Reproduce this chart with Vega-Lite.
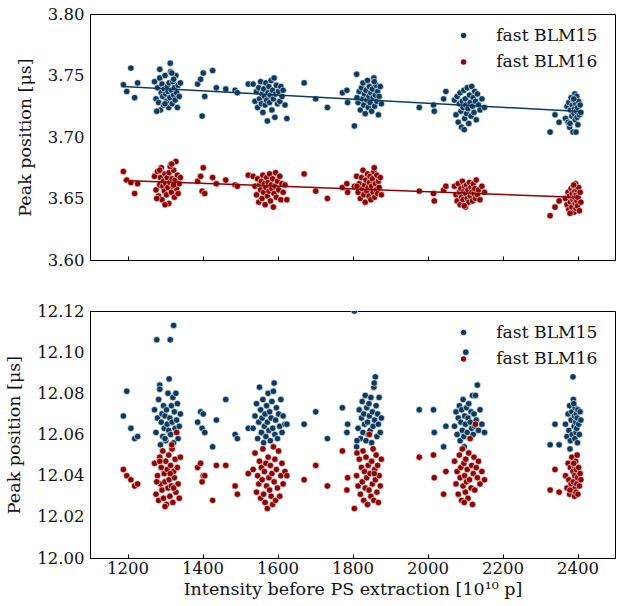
{
  "$schema": "https://vega.github.io/schema/vega-lite/v6.json",
  "padding": {"left": 5, "top": 5, "right": 5, "bottom": 5},
  "config": {
    "font": "DejaVu Serif",
    "view": {"stroke": "black", "strokeWidth": 1},
    "axis": {"domainColor": "black", "tickColor": "black", "labelColor": "#111", "titleColor": "#111", "labelFontSize": 16.5, "titleFontSize": 17.5, "titleFontWeight": "normal", "grid": false, "labelFont": "DejaVu Serif", "titleFont": "DejaVu Serif"},
    "legend": {"labelFont": "DejaVu Serif", "labelFontSize": 17.2, "labelColor": "#111"}
  },
  "datasets": {
    "shots": [
      {"x":1189,"t15":3.7425,"t16":3.672,"b15":12.069,"b16":12.043},
      {"x":1198,"t15":3.737,"t16":3.665,"b15":12.081,"b16":12.040},
      {"x":1209,"t15":3.756,"t16":3.663,"b15":12.063,"b16":12.038},
      {"x":1219,"t15":3.732,"t16":3.654,"b15":12.058,"b16":12.035},
      {"x":1227,"t15":3.744,"t16":3.662,"b15":12.059,"b16":12.036},
      {"x":1272,"t15":3.745,"t16":3.668,"b15":12.072,"b16":12.046},
      {"x":1276,"t15":3.731,"t16":3.657,"b15":12.061,"b16":12.031},
      {"x":1280,"t15":3.740,"t16":3.672,"b15":12.068,"b16":12.040},
      {"x":1283,"t15":3.728,"t16":3.652,"b15":12.077,"b16":12.028},
      {"x":1286,"t15":3.748,"t16":3.661,"b15":12.084,"b16":12.049},
      {"x":1288,"t15":3.722,"t16":3.667,"b15":12.055,"b16":12.036},
      {"x":1290,"t15":3.736,"t16":3.675,"b15":12.066,"b16":12.044},
      {"x":1292,"t15":3.743,"t16":3.649,"b15":12.070,"b16":12.033},
      {"x":1294,"t15":3.733,"t16":3.660,"b15":12.059,"b16":12.052},
      {"x":1296,"t15":3.726,"t16":3.664,"b15":12.074,"b16":12.029},
      {"x":1298,"t15":3.739,"t16":3.656,"b15":12.063,"b16":12.041},
      {"x":1300,"t15":3.750,"t16":3.670,"b15":12.069,"b16":12.037},
      {"x":1302,"t15":3.735,"t16":3.662,"b15":12.057,"b16":12.047},
      {"x":1304,"t15":3.729,"t16":3.653,"b15":12.072,"b16":12.026},
      {"x":1306,"t15":3.741,"t16":3.667,"b15":12.065,"b16":12.043},
      {"x":1308,"t15":3.737,"t16":3.659,"b15":12.080,"b16":12.034},
      {"x":1310,"t15":3.724,"t16":3.646,"b15":12.062,"b16":12.050},
      {"x":1311,"t15":3.744,"t16":3.671,"b15":12.087,"b16":12.038},
      {"x":1313,"t15":3.732,"t16":3.663,"b15":12.068,"b16":12.030},
      {"x":1315,"t15":3.753,"t16":3.677,"b15":12.060,"b16":12.045},
      {"x":1317,"t15":3.738,"t16":3.655,"b15":12.074,"b16":12.035},
      {"x":1319,"t15":3.727,"t16":3.666,"b15":12.066,"b16":12.053},
      {"x":1321,"t15":3.745,"t16":3.660,"b15":12.078,"b16":12.027},
      {"x":1323,"t15":3.734,"t16":3.673,"b15":12.056,"b16":12.042},
      {"x":1325,"t15":3.740,"t16":3.651,"b15":12.071,"b16":12.039},
      {"x":1327,"t15":3.730,"t16":3.665,"b15":12.063,"b16":12.048},
      {"x":1329,"t15":3.750,"t16":3.680,"b15":12.080,"b16":12.032},
      {"x":1331,"t15":3.736,"t16":3.658,"b15":12.067,"b16":12.061},
      {"x":1333,"t15":3.724,"t16":3.669,"b15":12.075,"b16":12.044},
      {"x":1335,"t15":3.742,"t16":3.654,"b15":12.058,"b16":12.036},
      {"x":1338,"t15":3.733,"t16":3.662,"b15":12.064,"b16":12.029},
      {"x":1341,"t15":3.744,"t16":3.667,"b15":12.070,"b16":12.049},
      {"x":1278,"t15":3.721,"t16":3.650,"b15":12.106,"b16":12.037},
      {"x":1314,"t15":3.760,"t16":3.676,"b15":12.106,"b16":12.041},
      {"x":1323,"t15":3.747,"t16":3.661,"b15":12.113,"b16":12.034},
      {"x":1286,"t15":3.755,"t16":3.673,"b15":12.082,"b16":12.047},
      {"x":1300,"t15":3.727,"t16":3.645,"b15":12.058,"b16":12.025},
      {"x":1318,"t15":3.752,"t16":3.678,"b15":12.053,"b16":12.055},
      {"x":1387,"t15":3.743,"t16":3.664,"b15":12.066,"b16":12.044},
      {"x":1395,"t15":3.747,"t16":3.668,"b15":12.071,"b16":12.046},
      {"x":1399,"t15":3.717,"t16":3.656,"b15":12.063,"b16":12.037},
      {"x":1402,"t15":3.752,"t16":3.675,"b15":12.070,"b16":12.040},
      {"x":1406,"t15":3.733,"t16":3.654,"b15":12.061,"b16":12.040},
      {"x":1427,"t15":3.754,"t16":3.667,"b15":12.054,"b16":12.028},
      {"x":1437,"t15":3.740,"t16":3.662,"b15":12.067,"b16":12.045},
      {"x":1462,"t15":3.739,"t16":3.665,"b15":12.077,"b16":12.045},
      {"x":1487,"t15":3.738,"t16":3.661,"b15":12.060,"b16":12.035},
      {"x":1493,"t15":3.736,"t16":3.660,"b15":12.058,"b16":12.031},
      {"x":1522,"t15":3.743,"t16":3.669,"b15":12.063,"b16":12.041},
      {"x":1535,"t15":3.743,"t16":3.668,"b15":12.063,"b16":12.043},
      {"x":1540,"t15":3.729,"t16":3.660,"b15":12.069,"b16":12.051},
      {"x":1544,"t15":3.737,"t16":3.653,"b15":12.075,"b16":12.032},
      {"x":1547,"t15":3.724,"t16":3.666,"b15":12.058,"b16":12.040},
      {"x":1550,"t15":3.740,"t16":3.647,"b15":12.066,"b16":12.036},
      {"x":1552,"t15":3.731,"t16":3.661,"b15":12.083,"b16":12.047},
      {"x":1555,"t15":3.745,"t16":3.657,"b15":12.072,"b16":12.029},
      {"x":1557,"t15":3.727,"t16":3.664,"b15":12.061,"b16":12.044},
      {"x":1559,"t15":3.735,"t16":3.650,"b15":12.068,"b16":12.038},
      {"x":1561,"t15":3.720,"t16":3.669,"b15":12.077,"b16":12.053},
      {"x":1563,"t15":3.739,"t16":3.655,"b15":12.056,"b16":12.031},
      {"x":1565,"t15":3.733,"t16":3.662,"b15":12.064,"b16":12.042},
      {"x":1567,"t15":3.726,"t16":3.645,"b15":12.070,"b16":12.027},
      {"x":1569,"t15":3.744,"t16":3.659,"b15":12.059,"b16":12.046},
      {"x":1571,"t15":3.730,"t16":3.667,"b15":12.074,"b16":12.035},
      {"x":1573,"t15":3.713,"t16":3.652,"b15":12.066,"b16":12.024},
      {"x":1575,"t15":3.736,"t16":3.663,"b15":12.080,"b16":12.049},
      {"x":1577,"t15":3.741,"t16":3.656,"b15":12.062,"b16":12.039},
      {"x":1579,"t15":3.728,"t16":3.670,"b15":12.071,"b16":12.033},
      {"x":1581,"t15":3.734,"t16":3.648,"b15":12.057,"b16":12.045},
      {"x":1583,"t15":3.746,"t16":3.661,"b15":12.068,"b16":12.030},
      {"x":1585,"t15":3.722,"t16":3.658,"b15":12.076,"b16":12.041},
      {"x":1587,"t15":3.738,"t16":3.666,"b15":12.063,"b16":12.026},
      {"x":1589,"t15":3.731,"t16":3.643,"b15":12.081,"b16":12.054},
      {"x":1591,"t15":3.748,"t16":3.654,"b15":12.085,"b16":12.037},
      {"x":1593,"t15":3.716,"t16":3.660,"b15":12.060,"b16":12.048},
      {"x":1595,"t15":3.735,"t16":3.671,"b15":12.067,"b16":12.028},
      {"x":1597,"t15":3.742,"t16":3.651,"b15":12.073,"b16":12.043},
      {"x":1600,"t15":3.727,"t16":3.664,"b15":12.058,"b16":12.034},
      {"x":1603,"t15":3.737,"t16":3.657,"b15":12.070,"b16":12.052},
      {"x":1606,"t15":3.729,"t16":3.668,"b15":12.064,"b16":12.030},
      {"x":1609,"t15":3.741,"t16":3.649,"b15":12.077,"b16":12.040},
      {"x":1612,"t15":3.733,"t16":3.662,"b15":12.061,"b16":12.046},
      {"x":1615,"t15":3.738,"t16":3.655,"b15":12.069,"b16":12.036},
      {"x":1620,"t15":3.726,"t16":3.661,"b15":12.065,"b16":12.042},
      {"x":1625,"t15":3.715,"t16":3.649,"b15":12.065,"b16":12.040},
      {"x":1671,"t15":3.744,"t16":3.670,"b15":12.065,"b16":12.038},
      {"x":1702,"t15":3.731,"t16":3.656,"b15":12.071,"b16":12.045},
      {"x":1733,"t15":3.724,"t16":3.650,"b15":12.058,"b16":12.035},
      {"x":1773,"t15":3.736,"t16":3.659,"b15":12.073,"b16":12.052},
      {"x":1787,"t15":3.728,"t16":3.655,"b15":12.065,"b16":12.039},
      {"x":1785,"t15":3.738,"t16":3.662,"b15":12.061,"b16":12.033},
      {"x":1805,"t15":3.709,"t16":3.660,"b15":12.120,"b16":12.024},
      {"x":1811,"t15":3.751,"t16":3.668,"b15":12.054,"b16":12.040},
      {"x":1815,"t15":3.728,"t16":3.655,"b15":12.063,"b16":12.035},
      {"x":1818,"t15":3.737,"t16":3.662,"b15":12.072,"b16":12.048},
      {"x":1821,"t15":3.722,"t16":3.650,"b15":12.058,"b16":12.031},
      {"x":1824,"t15":3.740,"t16":3.667,"b15":12.068,"b16":12.044},
      {"x":1826,"t15":3.731,"t16":3.658,"b15":12.076,"b16":12.037},
      {"x":1828,"t15":3.744,"t16":3.673,"b15":12.061,"b16":12.052},
      {"x":1830,"t15":3.726,"t16":3.653,"b15":12.070,"b16":12.028},
      {"x":1832,"t15":3.735,"t16":3.661,"b15":12.065,"b16":12.042},
      {"x":1834,"t15":3.719,"t16":3.647,"b15":12.079,"b16":12.034},
      {"x":1836,"t15":3.738,"t16":3.665,"b15":12.057,"b16":12.049},
      {"x":1838,"t15":3.730,"t16":3.656,"b15":12.073,"b16":12.039},
      {"x":1840,"t15":3.746,"t16":3.670,"b15":12.066,"b16":12.026},
      {"x":1842,"t15":3.724,"t16":3.659,"b15":12.060,"b16":12.045},
      {"x":1844,"t15":3.733,"t16":3.652,"b15":12.075,"b16":12.033},
      {"x":1845,"t15":3.741,"t16":3.663,"b15":12.069,"b16":12.060},
      {"x":1847,"t15":3.728,"t16":3.668,"b15":12.062,"b16":12.041},
      {"x":1849,"t15":3.736,"t16":3.649,"b15":12.078,"b16":12.030},
      {"x":1851,"t15":3.721,"t16":3.660,"b15":12.056,"b16":12.047},
      {"x":1853,"t15":3.739,"t16":3.666,"b15":12.071,"b16":12.036},
      {"x":1855,"t15":3.732,"t16":3.655,"b15":12.064,"b16":12.053},
      {"x":1857,"t15":3.748,"t16":3.672,"b15":12.083,"b16":12.028},
      {"x":1859,"t15":3.725,"t16":3.651,"b15":12.067,"b16":12.043},
      {"x":1861,"t15":3.734,"t16":3.662,"b15":12.088,"b16":12.038},
      {"x":1863,"t15":3.742,"t16":3.657,"b15":12.074,"b16":12.050},
      {"x":1865,"t15":3.729,"t16":3.669,"b15":12.059,"b16":12.032},
      {"x":1867,"t15":3.737,"t16":3.654,"b15":12.070,"b16":12.045},
      {"x":1869,"t15":3.718,"t16":3.664,"b15":12.065,"b16":12.027},
      {"x":1871,"t15":3.733,"t16":3.659,"b15":12.078,"b16":12.040},
      {"x":1874,"t15":3.741,"t16":3.667,"b15":12.061,"b16":12.035},
      {"x":1877,"t15":3.727,"t16":3.653,"b15":12.068,"b16":12.048},
      {"x":1858,"t15":3.745,"t16":3.675,"b15":12.085,"b16":12.041},
      {"x":1812,"t15":3.732,"t16":3.660,"b15":12.057,"b16":12.051},
      {"x":1978,"t15":3.724,"t16":3.656,"b15":12.072,"b16":12.049},
      {"x":2016,"t15":3.726,"t16":3.654,"b15":12.072,"b16":12.050},
      {"x":2018,"t15":3.721,"t16":3.648,"b15":12.061,"b16":12.039},
      {"x":2043,"t15":3.731,"t16":3.657,"b15":12.054,"b16":12.031},
      {"x":2049,"t15":3.737,"t16":3.660,"b15":12.064,"b16":12.042},
      {"x":2072,"t15":3.730,"t16":3.660,"b15":12.064,"b16":12.047},
      {"x":2076,"t15":3.718,"t16":3.653,"b15":12.071,"b16":12.036},
      {"x":2079,"t15":3.733,"t16":3.648,"b15":12.060,"b16":12.042},
      {"x":2082,"t15":3.712,"t16":3.662,"b15":12.068,"b16":12.031},
      {"x":2085,"t15":3.727,"t16":3.655,"b15":12.074,"b16":12.050},
      {"x":2087,"t15":3.736,"t16":3.645,"b15":12.057,"b16":12.039},
      {"x":2089,"t15":3.721,"t16":3.658,"b15":12.066,"b16":12.044},
      {"x":2091,"t15":3.708,"t16":3.651,"b15":12.072,"b16":12.028},
      {"x":2093,"t15":3.729,"t16":3.664,"b15":12.062,"b16":12.053},
      {"x":2095,"t15":3.724,"t16":3.649,"b15":12.077,"b16":12.035},
      {"x":2097,"t15":3.738,"t16":3.656,"b15":12.059,"b16":12.046},
      {"x":2099,"t15":3.715,"t16":3.660,"b15":12.069,"b16":12.040},
      {"x":2101,"t15":3.731,"t16":3.643,"b15":12.065,"b16":12.032},
      {"x":2102,"t15":3.726,"t16":3.654,"b15":12.100,"b16":12.048},
      {"x":2104,"t15":3.719,"t16":3.661,"b15":12.073,"b16":12.037},
      {"x":2106,"t15":3.740,"t16":3.650,"b15":12.061,"b16":12.043},
      {"x":2108,"t15":3.723,"t16":3.657,"b15":12.068,"b16":12.029},
      {"x":2110,"t15":3.711,"t16":3.647,"b15":12.075,"b16":12.051},
      {"x":2112,"t15":3.734,"t16":3.663,"b15":12.058,"b16":12.038},
      {"x":2114,"t15":3.728,"t16":3.652,"b15":12.066,"b16":12.058},
      {"x":2116,"t15":3.717,"t16":3.659,"b15":12.071,"b16":12.034},
      {"x":2118,"t15":3.741,"t16":3.655,"b15":12.063,"b16":12.045},
      {"x":2120,"t15":3.725,"t16":3.648,"b15":12.079,"b16":12.026},
      {"x":2122,"t15":3.732,"t16":3.662,"b15":12.060,"b16":12.041},
      {"x":2124,"t15":3.720,"t16":3.654,"b15":12.070,"b16":12.049},
      {"x":2126,"t15":3.737,"t16":3.658,"b15":12.064,"b16":12.033},
      {"x":2128,"t15":3.729,"t16":3.650,"b15":12.079,"b16":12.065},
      {"x":2130,"t15":3.714,"t16":3.665,"b15":12.067,"b16":12.044},
      {"x":2133,"t15":3.735,"t16":3.653,"b15":12.084,"b16":12.039},
      {"x":2136,"t15":3.726,"t16":3.657,"b15":12.062,"b16":12.047},
      {"x":2140,"t15":3.722,"t16":3.649,"b15":12.072,"b16":12.036},
      {"x":2145,"t15":3.731,"t16":3.660,"b15":12.065,"b16":12.042},
      {"x":2152,"t15":3.724,"t16":3.655,"b15":12.061,"b16":12.038},
      {"x":2098,"t15":3.706,"t16":3.644,"b15":12.054,"b16":12.027},
      {"x":2327,"t15":3.704,"t16":3.636,"b15":12.055,"b16":12.033},
      {"x":2340,"t15":3.718,"t16":3.643,"b15":12.065,"b16":12.043},
      {"x":2351,"t15":3.712,"t16":3.648,"b15":12.055,"b16":12.032},
      {"x":2368,"t15":3.715,"t16":3.650,"b15":12.065,"b16":12.040},
      {"x":2372,"t15":3.725,"t16":3.645,"b15":12.059,"b16":12.034},
      {"x":2375,"t15":3.712,"t16":3.655,"b15":12.070,"b16":12.046},
      {"x":2377,"t15":3.728,"t16":3.641,"b15":12.062,"b16":12.038},
      {"x":2379,"t15":3.708,"t16":3.652,"b15":12.074,"b16":12.031},
      {"x":2381,"t15":3.722,"t16":3.647,"b15":12.057,"b16":12.044},
      {"x":2383,"t15":3.732,"t16":3.658,"b15":12.067,"b16":12.036},
      {"x":2385,"t15":3.717,"t16":3.643,"b15":12.071,"b16":12.049},
      {"x":2386,"t15":3.726,"t16":3.654,"b15":12.060,"b16":12.033},
      {"x":2388,"t15":3.704,"t16":3.649,"b15":12.088,"b16":12.042},
      {"x":2389,"t15":3.730,"t16":3.660,"b15":12.077,"b16":12.037},
      {"x":2391,"t15":3.719,"t16":3.639,"b15":12.064,"b16":12.045},
      {"x":2392,"t15":3.723,"t16":3.651,"b15":12.069,"b16":12.030},
      {"x":2393,"t15":3.735,"t16":3.656,"b15":12.058,"b16":12.040},
      {"x":2394,"t15":3.714,"t16":3.646,"b15":12.073,"b16":12.034},
      {"x":2395,"t15":3.727,"t16":3.662,"b15":12.066,"b16":12.047},
      {"x":2396,"t15":3.704,"t16":3.642,"b15":12.061,"b16":12.032},
      {"x":2397,"t15":3.721,"t16":3.653,"b15":12.070,"b16":12.043},
      {"x":2398,"t15":3.733,"t16":3.648,"b15":12.063,"b16":12.036},
      {"x":2399,"t15":3.716,"t16":3.657,"b15":12.068,"b16":12.050},
      {"x":2400,"t15":3.724,"t16":3.644,"b15":12.056,"b16":12.039},
      {"x":2401,"t15":3.710,"t16":3.651,"b15":12.072,"b16":12.031},
      {"x":2403,"t15":3.729,"t16":3.659,"b15":12.065,"b16":12.044},
      {"x":2405,"t15":3.718,"t16":3.640,"b15":12.060,"b16":12.035},
      {"x":2407,"t15":3.726,"t16":3.655,"b15":12.071,"b16":12.041},
      {"x":2409,"t15":3.720,"t16":3.647,"b15":12.067,"b16":12.038},
      {"x":2380,"t15":3.711,"t16":3.638,"b15":12.053,"b16":12.033},
      {"x":2390,"t15":3.731,"t16":3.661,"b15":12.075,"b16":12.046}
    ]
  },
  "data": {"name": "shots"},
  "spacing": 33,
  "resolve": {"legend": {"color": "independent"}},
  "vconcat": [
    {
      "width": 525,
      "height": 246,
      "layer": [
        {
          "mark": {"type": "point", "filled": true, "opacity": 1, "size": 42, "stroke": "white", "strokeWidth": 0.6},
          "encoding": {
            "x": {"field": "x", "type": "quantitative", "scale": {"domain": [1100, 2500]}, "axis": {"values": [1200,1400,1600,1800,2000,2200,2400], "labels": false, "title": null, "tickSize": -4, "domainColor": "black"}},
            "y": {"field": "t15", "type": "quantitative", "scale": {"domain": [3.6, 3.8], "zero": false}, "axis": {"values": [3.6,3.65,3.7,3.75,3.8], "format": ".2f", "tickSize": 0, "labelPadding": 6, "title": "Peak position [μs]", "titlePadding": 13}},
            "color": {"datum": "fast BLM15", "type": "nominal", "scale": {"domain": ["fast BLM15", "fast BLM16"], "range": ["#0c3b5e", "#8c0000"]}, "legend": {"title": null, "orient": "none", "legendX": 365, "legendY": 13, "padding": 0, "symbolType": "circle", "symbolSize": 30, "symbolStrokeWidth": 0, "labelOffset": 24, "rowPadding": 8.5, "labelFontSize": 17.2}}
          }
        },
        {
          "mark": {"type": "point", "filled": true, "opacity": 1, "size": 42, "stroke": "white", "strokeWidth": 0.6},
          "encoding": {
            "x": {"field": "x", "type": "quantitative"},
            "y": {"field": "t16", "type": "quantitative"},
            "color": {"datum": "fast BLM16", "type": "nominal"}
          }
        },
        {
          "transform": [{"regression": "t15", "on": "x"}],
          "mark": {"type": "line", "color": "#0c3b5e", "strokeWidth": 1.5},
          "encoding": {"x": {"field": "x", "type": "quantitative"}, "y": {"field": "t15", "type": "quantitative"}}
        },
        {
          "transform": [{"regression": "t16", "on": "x"}],
          "mark": {"type": "line", "color": "#8c0000", "strokeWidth": 1.5},
          "encoding": {"x": {"field": "x", "type": "quantitative"}, "y": {"field": "t16", "type": "quantitative"}}
        }
      ]
    },
    {
      "width": 525,
      "height": 247,
      "layer": [
        {
          "mark": {"type": "point", "filled": true, "opacity": 1, "size": 42, "stroke": "white", "strokeWidth": 0.6, "clip": true},
          "encoding": {
            "x": {"field": "x", "type": "quantitative", "scale": {"domain": [1100, 2500]}, "axis": {"values": [1200,1400,1600,1800,2000,2200,2400], "format": "d", "tickSize": -4, "labelPadding": 6, "title": "Intensity before PS extraction [10¹⁰ p]", "titlePadding": 4}},
            "y": {"field": "b15", "type": "quantitative", "scale": {"domain": [12.0, 12.12], "zero": false}, "axis": {"values": [12.0,12.02,12.04,12.06,12.08,12.1,12.12], "format": ".2f", "tickSize": 0, "labelPadding": 6, "title": "Peak position [μs]", "titlePadding": 13}},
            "color": {"datum": "fast BLM15", "type": "nominal", "scale": {"domain": ["fast BLM15", "fast BLM16"], "range": ["#0c3b5e", "#8c0000"]}, "legend": {"title": null, "orient": "none", "legendX": 365, "legendY": 13, "padding": 0, "symbolType": "circle", "symbolSize": 30, "symbolStrokeWidth": 0, "labelOffset": 24, "rowPadding": 8.5, "labelFontSize": 17.2}}
          }
        },
        {
          "mark": {"type": "point", "filled": true, "opacity": 1, "size": 42, "stroke": "white", "strokeWidth": 0.6, "clip": true},
          "encoding": {
            "x": {"field": "x", "type": "quantitative"},
            "y": {"field": "b16", "type": "quantitative"},
            "color": {"datum": "fast BLM16", "type": "nominal"}
          }
        }
      ]
    }
  ]
}
